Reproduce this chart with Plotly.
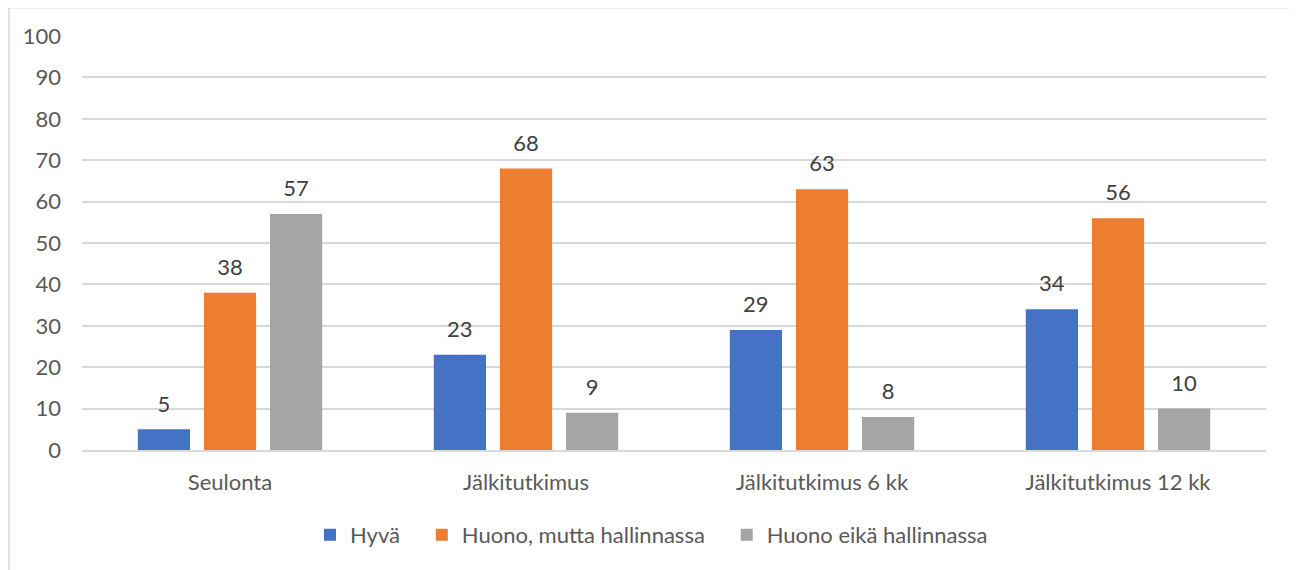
import plotly.graph_objects as go

categories = ["Seulonta", "Jälkitutkimus", "Jälkitutkimus 6 kk", "Jälkitutkimus 12 kk"]
series_names = ["Hyvä", "Huono, mutta hallinnassa", "Huono eikä hallinnassa"]
hyva = [5, 23, 29, 34]
huono_hallinnassa = [38, 68, 63, 56]
huono_ei_hallinnassa = [57, 9, 8, 10]
y_ticks = [0, 10, 20, 30, 40, 50, 60, 70, 80, 90, 100]

colors = ["#4472C4", "#ED7D31", "#A5A5A5"]
FONT = "Lato"
FS = 22
PAD = "\u00a0" * 3  # extra spacing between legend entries

fig = go.Figure()
for i, (name, vals, col) in enumerate(zip(series_names, [hyva, huono_hallinnassa, huono_ei_hallinnassa], colors)):
    fig.add_trace(go.Bar(
        x=categories, y=vals, name=name + (PAD if i < len(series_names) - 1 else ""),
        marker=dict(color=col, line=dict(width=0)),
    ))
# value labels, placed by the same grouping as the bars
for name, vals in zip(series_names, [hyva, huono_hallinnassa, huono_ei_hallinnassa]):
    fig.add_trace(go.Scatter(
        x=categories, y=vals, mode="markers+text", text=vals,
        textposition="top center", showlegend=False, hoverinfo="skip",
        marker=dict(size=18, opacity=0),
        textfont=dict(family=FONT, size=FS, color="#404040"),
        cliponaxis=False,
    ))

fig.update_layout(
    width=1289, height=562,
    margin=dict(l=74, r=31, t=28, b=120),
    paper_bgcolor="white", plot_bgcolor="white",
    barmode="group", bargap=0.33, bargroupgap=0.21,
    scattermode="group", scattergap=0.33,
    font=dict(family=FONT, size=FS, color="#595959"),
    showlegend=True,
    legend=dict(orientation="h", x=0.481, xanchor="center", y=-0.205, yanchor="middle",
                font=dict(family=FONT, size=FS, color="#595959"),
                itemwidth=30, traceorder="normal"),
    xaxis=dict(showline=True, linecolor="#D9D9D9", linewidth=1.5, ticks="",
               ticklabelstandoff=12, tickfont=dict(size=FS)),
    yaxis=dict(range=[0, 100], tickvals=y_ticks, showgrid=True, gridcolor="#D9D9D9",
               gridwidth=1.5, zeroline=False, showline=False, ticks="",
               ticklabelstandoff=20, tickfont=dict(size=FS)),
    shapes=[dict(type="rect", xref="paper", yref="paper",
                 x0=-0.0617, x1=1.0245, y0=-0.30, y1=1.068,
                 line=dict(color="#D9D9D9", width=1.5), fillcolor="rgba(0,0,0,0)")],
)

fig.write_html("out.html")
